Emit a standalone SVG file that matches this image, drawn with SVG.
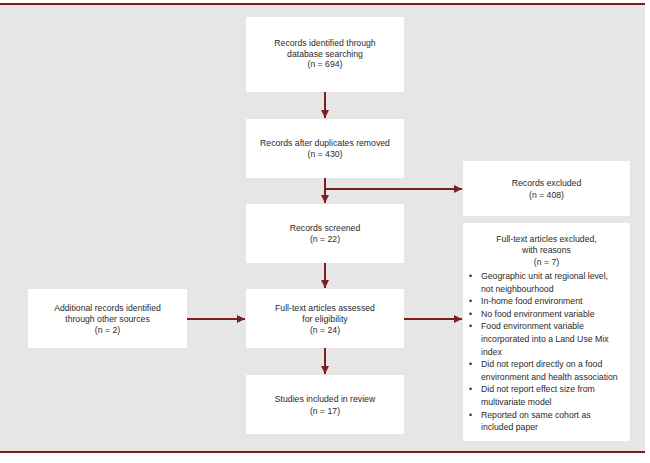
<svg xmlns="http://www.w3.org/2000/svg" width="650" height="463" viewBox="0 0 650 463">
<defs>
<marker id="ah" viewBox="0 0 10 10" refX="10" refY="5" markerWidth="4.2" markerHeight="4.2" orient="auto" markerUnits="strokeWidth">
<path d="M0,0 L10,5 L0,10 z" fill="#7d1f1f"/>
</marker>
<style>
.box{fill:#ffffff;}
.t{font-family:"Liberation Sans",Arial,sans-serif;font-size:8.7px;fill:#2a2a2a;text-anchor:middle;}
.l{font-family:"Liberation Sans",Arial,sans-serif;font-size:8.7px;fill:#2a2a2a;}
.c{fill:none;stroke:#7d1f1f;stroke-width:2;}
.rule{stroke:#7d1f1f;stroke-width:2;}
</style>
</defs>
<rect x="0" y="0" width="650" height="463" fill="#ffffff"/>
<rect x="0" y="5" width="645" height="446" fill="#e6e6e6"/>
<line class="rule" x1="0" y1="4" x2="645" y2="4"/>
<line class="rule" x1="0" y1="452" x2="645" y2="452"/>

<g id="connectors">
<line class="c" x1="325" y1="92" x2="325" y2="118" marker-end="url(#ah)"/>
<line class="c" x1="325" y1="178" x2="325" y2="203" marker-end="url(#ah)"/>
<line class="c" x1="325" y1="189" x2="462" y2="189" marker-end="url(#ah)"/>
<line class="c" x1="325" y1="263" x2="325" y2="288" marker-end="url(#ah)"/>
<line class="c" x1="187" y1="319" x2="245" y2="319" marker-end="url(#ah)"/>
<line class="c" x1="404" y1="319" x2="462" y2="319" marker-end="url(#ah)"/>
<line class="c" x1="325" y1="348" x2="325" y2="374" marker-end="url(#ah)"/>
</g>

<g id="identified">
<rect class="box" x="246" y="17" width="158" height="75"/>
<text class="t" x="325" y="46">Records identified through</text>
<text class="t" x="325" y="57">database searching</text>
<text class="t" x="325" y="67">(n = 694)</text>
</g>

<g id="duplicates">
<rect class="box" x="246" y="119" width="158" height="59"/>
<text class="t" x="325" y="146">Records after duplicates removed</text>
<text class="t" x="325" y="157">(n = 430)</text>
</g>

<g id="excluded">
<rect class="box" x="463" y="161" width="167" height="55"/>
<text class="t" x="546.5" y="186">Records excluded</text>
<text class="t" x="546.5" y="198">(n = 408)</text>
</g>

<g id="screened">
<rect class="box" x="246" y="204" width="158" height="59"/>
<text class="t" x="325" y="231">Records screened</text>
<text class="t" x="325" y="242">(n = 22)</text>
</g>

<g id="additional">
<rect class="box" x="28" y="289" width="159" height="59"/>
<text class="t" x="107.5" y="311">Additional records identified</text>
<text class="t" x="107.5" y="322">through other sources</text>
<text class="t" x="107.5" y="333">(n = 2)</text>
</g>

<g id="assessed">
<rect class="box" x="246" y="289" width="158" height="59"/>
<text class="t" x="325" y="311">Full-text articles assessed</text>
<text class="t" x="325" y="322">for eligibility</text>
<text class="t" x="325" y="333">(n = 24)</text>
</g>

<g id="fulltext-excluded">
<rect class="box" x="463" y="223" width="167" height="218"/>
<text class="t" x="546.5" y="242">Full-text articles excluded,</text>
<text class="t" x="546.5" y="253">with reasons</text>
<text class="t" x="546.5" y="265">(n = 7)</text>
<text class="l" x="469" y="279">•</text>
<text class="l" x="481" y="279">Geographic unit at regional level,</text>
<text class="l" x="481" y="291.6">not neighbourhood</text>
<text class="l" x="469" y="304.2">•</text>
<text class="l" x="481" y="304.2">In-home food environment</text>
<text class="l" x="469" y="316.8">•</text>
<text class="l" x="481" y="316.8">No food environment variable</text>
<text class="l" x="469" y="329.4">•</text>
<text class="l" x="481" y="329.4">Food environment variable</text>
<text class="l" x="481" y="342">incorporated into a Land Use Mix</text>
<text class="l" x="481" y="354.6">index</text>
<text class="l" x="469" y="367.2">•</text>
<text class="l" x="481" y="367.2">Did not report directly on a food</text>
<text class="l" x="481" y="379.8">environment and health association</text>
<text class="l" x="469" y="392.4">•</text>
<text class="l" x="481" y="392.4">Did not report effect size from</text>
<text class="l" x="481" y="405">multivariate model</text>
<text class="l" x="469" y="417.6">•</text>
<text class="l" x="481" y="417.6">Reported on same cohort as</text>
<text class="l" x="481" y="430.2">included paper</text>
</g>

<g id="included">
<rect class="box" x="246" y="375" width="158" height="59"/>
<text class="t" x="325" y="402">Studies included in review</text>
<text class="t" x="325" y="414">(n = 17)</text>
</g>
</svg>
